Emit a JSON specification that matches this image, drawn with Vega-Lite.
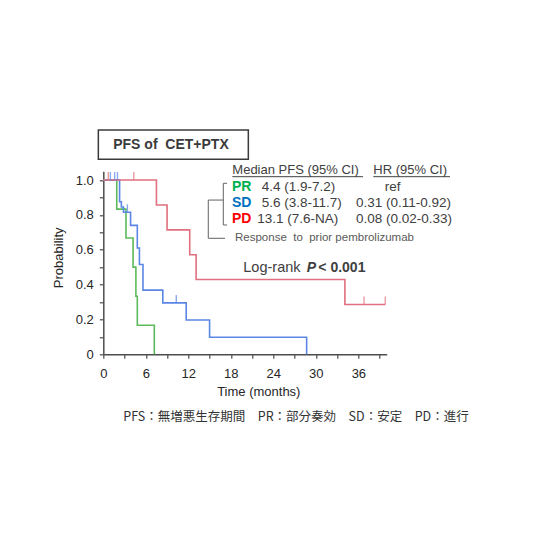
{
  "$schema": "https://vega.github.io/schema/vega-lite/v6.json",
  "width": 283.4,
  "height": 183,
  "autosize": {"type": "none"},
  "padding": {"left": 103.3, "top": 171.3, "right": 173.3, "bottom": 205.7},
  "background": "white",
  "config": {
    "view": {"stroke": null},
    "font": "Liberation Sans",
    "axis": {
      "labelFont": "Liberation Sans",
      "titleFont": "Liberation Sans",
      "labelFontSize": 13,
      "titleFontSize": 13,
      "titleFontWeight": "normal",
      "labelColor": "#262626",
      "titleColor": "#262626",
      "domainColor": "#4d4d4d",
      "domainWidth": 1.5,
      "tickColor": "#4d4d4d",
      "tickWidth": 1.2,
      "tickSize": 4,
      "grid": false
    }
  },
  "datasets": {
    "km": [
      {"group": "PR", "time": 0, "prob": 1},
      {"group": "PR", "time": 1.9, "prob": 0.833},
      {"group": "PR", "time": 3.2, "prob": 0.667},
      {"group": "PR", "time": 4.2, "prob": 0.5},
      {"group": "PR", "time": 4.6, "prob": 0.333},
      {"group": "PR", "time": 4.8, "prob": 0.167},
      {"group": "PR", "time": 7.2, "prob": 0},
      {"group": "SD", "time": 0, "prob": 1},
      {"group": "SD", "time": 2.3, "prob": 0.875},
      {"group": "SD", "time": 2.55, "prob": 0.845},
      {"group": "SD", "time": 2.85, "prob": 0.815},
      {"group": "SD", "time": 3.85, "prob": 0.74},
      {"group": "SD", "time": 4.8, "prob": 0.61},
      {"group": "SD", "time": 5.1, "prob": 0.515},
      {"group": "SD", "time": 5.6, "prob": 0.368},
      {"group": "SD", "time": 8.4, "prob": 0.295},
      {"group": "SD", "time": 11.7, "prob": 0.197},
      {"group": "SD", "time": 15.0, "prob": 0.098},
      {"group": "SD", "time": 28.7, "prob": 0},
      {"group": "PD", "time": 0, "prob": 1},
      {"group": "PD", "time": 7.5, "prob": 0.857},
      {"group": "PD", "time": 9.0, "prob": 0.714},
      {"group": "PD", "time": 12.2, "prob": 0.571},
      {"group": "PD", "time": 13.1, "prob": 0.429},
      {"group": "PD", "time": 34.1, "prob": 0.286},
      {"group": "PD", "time": 39.8, "prob": 0.286}
    ],
    "censored": [
      {"group": "PD", "time": 0.7, "prob": 1},
      {"group": "PD", "time": 4.3, "prob": 1},
      {"group": "PD", "time": 36.8, "prob": 0.286},
      {"group": "PD", "time": 39.8, "prob": 0.286},
      {"group": "SD", "time": 1.0, "prob": 1},
      {"group": "SD", "time": 1.6, "prob": 1},
      {"group": "SD", "time": 2.0, "prob": 1},
      {"group": "SD", "time": 3.4, "prob": 0.815},
      {"group": "SD", "time": 10.3, "prob": 0.295}
    ]
  },
  "encoding": {
    "x": {
      "field": "time",
      "type": "quantitative",
      "scale": {"domain": [0, 40], "nice": false, "zero": false},
      "axis": {
        "title": "Time (months)",
        "values": [0, 3, 6, 9, 12, 15, 18, 21, 24, 27, 30, 33, 36, 39],
        "labelExpr": "datum.value % 6 == 0 ? datum.label : ''",
        "labelPadding": 9,
        "titlePadding": 5,
        "titleX": 155,
        "labelFlush": false
      }
    },
    "y": {
      "field": "prob",
      "type": "quantitative",
      "scale": {"domain": [0, 1.05], "nice": false, "zero": false},
      "axis": {
        "title": "Probability",
        "values": [0, 0.1, 0.2, 0.3, 0.4, 0.5, 0.6, 0.7, 0.8, 0.9, 1.0],
        "labelExpr": "round(datum.value * 10) % 2 == 0 ? (datum.value == 0 ? '0' : format(datum.value, '.1f')) : ''",
        "labelPadding": 6,
        "titleX": -45,
        "titleY": 86,
        "titleBaseline": "middle",
        "labelFlush": false
      }
    }
  },
  "layer": [
    {
      "data": {"name": "km"},
      "mark": {"type": "line", "interpolate": "step-after", "strokeWidth": 1.6},
      "encoding": {
        "color": {
          "field": "group",
          "type": "nominal",
          "scale": {"domain": ["PR", "SD", "PD"], "range": ["#5cba5c", "#5b86e5", "#e0707f"]},
          "legend": null
        }
      }
    },
    {
      "data": {"name": "censored"},
      "mark": {"type": "tick", "orient": "vertical", "size": 8, "thickness": 1.4, "yOffset": -4},
      "encoding": {
        "color": {"field": "group", "type": "nominal", "legend": null}
      }
    },
    {
      "data": {"values": [{"time": -0.7, "time2": 20.47, "prob": 1.119, "prob2": 1.287}]},
      "mark": {"type": "rect", "fill": "white", "stroke": "#3a3a3a", "strokeWidth": 1.5},
      "encoding": {
        "x2": {"field": "time2"},
        "y2": {"field": "prob2"}
      }
    },
    {
      "data": {"values": [{"time": 9.55, "prob": 1.201, "label": "PFS of\u00a0 CET+PTX"}]},
      "mark": {"type": "text", "fontSize": 14, "fontWeight": "bold", "color": "#3a3a3a", "align": "center", "baseline": "middle"},
      "encoding": {"text": {"field": "label"}}
    },
    {
      "data": {"values": [
        {"time": 18.21, "prob": 1.055, "label": "Median PFS (95% CI)"},
        {"time": 38.11, "prob": 1.055, "label": "HR (95% CI)"}
      ]},
      "mark": {"type": "text", "fontSize": 13, "color": "#404040", "align": "left", "baseline": "middle"},
      "encoding": {"text": {"field": "label"}}
    },
    {
      "data": {"values": [
        {"time": 18.21, "time2": 36.65, "prob": 1.019},
        {"time": 38.11, "time2": 48.93, "prob": 1.019}
      ]},
      "mark": {"type": "rule", "color": "#404040", "strokeWidth": 1},
      "encoding": {"x2": {"field": "time2"}}
    },
    {
      "data": {"values": [{"time": 18.16, "prob": 0.9616, "label": "PR"}]},
      "mark": {"type": "text", "fontSize": 14, "fontWeight": "bold", "color": "#00b050", "align": "left", "baseline": "middle"},
      "encoding": {"text": {"field": "label"}}
    },
    {
      "data": {"values": [{"time": 18.16, "prob": 0.8698, "label": "SD"}]},
      "mark": {"type": "text", "fontSize": 14, "fontWeight": "bold", "color": "#0070c0", "align": "left", "baseline": "middle"},
      "encoding": {"text": {"field": "label"}}
    },
    {
      "data": {"values": [{"time": 18.16, "prob": 0.7745, "label": "PD"}]},
      "mark": {"type": "text", "fontSize": 14, "fontWeight": "bold", "color": "#ff0000", "align": "left", "baseline": "middle"},
      "encoding": {"text": {"field": "label"}}
    },
    {
      "data": {"values": [
        {"time": 22.36, "prob": 0.9616, "label": "4.4 (1.9-7.2)"},
        {"time": 22.36, "prob": 0.8698, "label": "5.6 (3.8-11.7)"},
        {"time": 21.74, "prob": 0.7745, "label": "13.1 (7.6-NA)"},
        {"time": 35.67, "prob": 0.8698, "label": "0.31 (0.11-0.92)"},
        {"time": 35.67, "prob": 0.7745, "label": "0.08 (0.02-0.33)"}
      ]},
      "mark": {"type": "text", "fontSize": 13.5, "color": "#404040", "align": "left", "baseline": "middle"},
      "encoding": {"text": {"field": "label"}}
    },
    {
      "data": {"values": [{"time": 40.85, "prob": 0.9616, "label": "ref"}]},
      "mark": {"type": "text", "fontSize": 13.5, "color": "#404040", "align": "center", "baseline": "middle"},
      "encoding": {"text": {"field": "label"}}
    },
    {
      "data": {"values": [{"time": 18.59, "prob": 0.6655, "label": "Response\u00a0 to\u00a0 prior pembrolizumab"}]},
      "mark": {"type": "text", "fontSize": 11.5, "color": "#595959", "align": "left", "baseline": "middle"},
      "encoding": {"text": {"field": "label"}}
    },
    {
      "data": {"values": [
        {"time": 16.94, "time2": 16.94, "prob": 0.981, "prob2": 0.742},
        {"time": 16.94, "time2": 17.46, "prob": 0.981, "prob2": 0.981},
        {"time": 16.94, "time2": 17.46, "prob": 0.742, "prob2": 0.742},
        {"time": 14.82, "time2": 16.94, "prob": 0.885, "prob2": 0.885},
        {"time": 14.82, "time2": 14.82, "prob": 0.885, "prob2": 0.6655},
        {"time": 14.82, "time2": 17.18, "prob": 0.6655, "prob2": 0.6655}
      ]},
      "mark": {"type": "rule", "color": "#707070", "strokeWidth": 1.1},
      "encoding": {"x2": {"field": "time2"}, "y2": {"field": "prob2"}}
    },
    {
      "data": {"values": [{"time": 19.76, "prob": 0.4934, "label": "Log-rank"}]},
      "mark": {"type": "text", "fontSize": 14.5, "color": "#404040", "align": "left", "baseline": "middle"},
      "encoding": {"text": {"field": "label"}}
    },
    {
      "data": {"values": [{"time": 28.71, "prob": 0.4934, "label": "P"}]},
      "mark": {"type": "text", "fontSize": 14, "fontWeight": "bold", "fontStyle": "italic", "color": "#404040", "align": "left", "baseline": "middle"},
      "encoding": {"text": {"field": "label"}}
    },
    {
      "data": {"values": [{"time": 30.35, "prob": 0.4934, "label": "< 0.001"}]},
      "mark": {"type": "text", "fontSize": 14, "fontWeight": "bold", "color": "#404040", "align": "left", "baseline": "middle"},
      "encoding": {"text": {"field": "label"}}
    },
    {
      "data": {"values": [{"time": 2.82, "prob": -0.358, "label": "PFS：無増悪生存期間　PR：部分奏効　SD：安定　PD：進行"}]},
      "mark": {"type": "text", "font": "Noto Sans CJK JP", "fontSize": 12.5, "color": "#333333", "align": "left", "baseline": "middle"},
      "encoding": {"text": {"field": "label"}}
    }
  ]
}
